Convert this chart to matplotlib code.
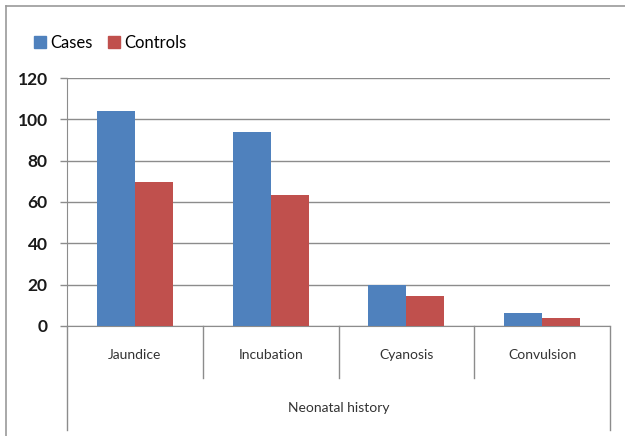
import matplotlib
matplotlib.use("Agg")
import matplotlib.pyplot as plt
import numpy as np
from matplotlib.lines import Line2D
from matplotlib.patches import Patch
from matplotlib.transforms import blended_transform_factory

categories = ["Jaundice", "Incubation", "Cyanosis", "Convulsion"]
cases = [104, 94, 20, 6.5]
controls = [69.5, 63.5, 14.5, 4]
group_label = "Neonatal history"

BLUE = "#4F81BD"
RED = "#C0504D"
GRID = "#8c8c8c"

plt.rcParams["font.family"] = ["Lato", "DejaVu Sans"]

fig = plt.figure(figsize=(6.25, 4.36), dpi=100)
ax = fig.add_axes([0.1072, 0.2523, 0.8688, 0.5688])

x = np.arange(len(categories))
w = 0.28
ax.bar(x - w / 2, cases, w, color=BLUE, zorder=3)
ax.bar(x + w / 2, controls, w, color=RED, zorder=3)

ax.set_xlim(-0.5, len(categories) - 0.5)
ax.set_ylim(0, 120)
ax.set_yticks(range(0, 121, 20))
ax.tick_params(axis="y", labelsize=12.5, length=5, color=GRID, width=1, pad=9)
for t in ax.get_yticklabels():
    t.set_fontweight("bold")
    t.set_color("#1a1a1a")
ax.set_xticks([])
ax.yaxis.grid(True, color=GRID, linewidth=1)
ax.set_axisbelow(True)
for side in ["top", "right"]:
    ax.spines[side].set_visible(False)
ax.spines["left"].set_color(GRID)
ax.spines["bottom"].set_color(GRID)

# category dividers and outer bracket below the axis
trans = blended_transform_factory(ax.transData, ax.transAxes)
for b in np.arange(0.5, len(categories) - 0.5, 1):
    ax.add_line(Line2D([b, b], [0, -0.21], transform=trans, color=GRID,
                       linewidth=1, clip_on=False))
for b in [-0.5, len(categories) - 0.5]:
    ax.add_line(Line2D([b, b], [0, -0.42], transform=trans, color=GRID,
                       linewidth=1, clip_on=False))
for xi, name in zip(x, categories):
    ax.text(xi, -0.117, name, transform=trans, ha="center", va="center",
            fontsize=10, color="#333333")
ax.text(0.5, -0.331, group_label, transform=ax.transAxes, ha="center",
        va="center", fontsize=10, color="#333333")

handles = [Patch(color=BLUE, label="Cases"), Patch(color=RED, label="Controls")]
fig.legend(handles=handles, loc="center left", bbox_to_anchor=(0.035, 0.901),
           ncol=2, frameon=False, fontsize=12, handlelength=0.75,
           handleheight=0.75, handletextpad=0.25, columnspacing=0.9,
           borderpad=0.2)

# chart frame
fig.add_artist(Line2D([6 / 625, 1], [1 - 6 / 436, 1 - 6 / 436],
                      transform=fig.transFigure, color="#9a9a9a", linewidth=1.2))
fig.add_artist(Line2D([6 / 625, 6 / 625], [0, 1 - 6 / 436],
                      transform=fig.transFigure, color="#9a9a9a", linewidth=1.2))

fig.savefig("out.png", dpi=100)
